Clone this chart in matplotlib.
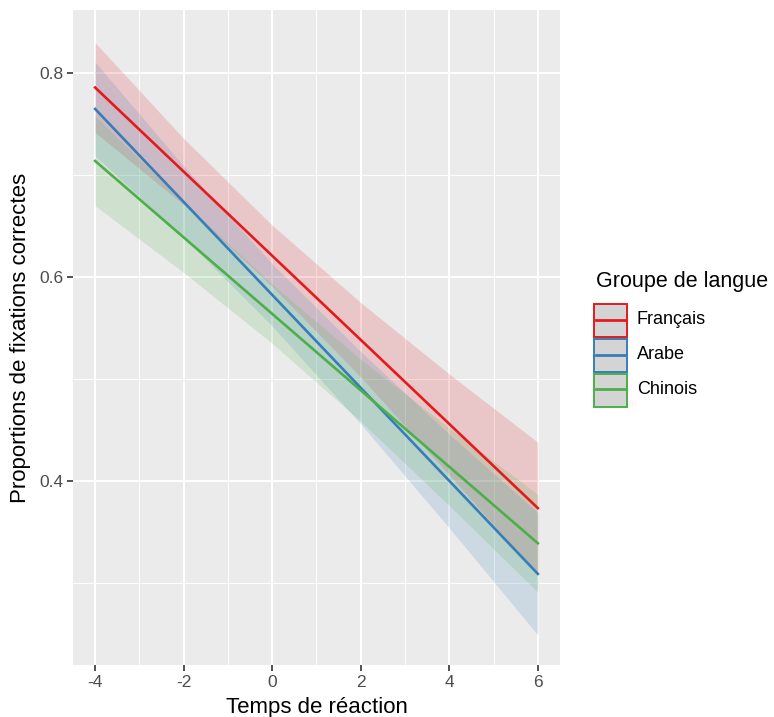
import numpy as np
import matplotlib.pyplot as plt
from matplotlib.patches import Rectangle
from matplotlib.lines import Line2D

# valeurs
temps = [-4, -2, 0, 2, 4, 6]
groupes = ['Français', 'Arabe', 'Chinois']
couleurs = ['#E41A1C', '#377EB8', '#4DAF4A']

fr_fit = [0.786, 0.7035, 0.621, 0.5385, 0.456, 0.3735]
fr_low = [0.742, 0.671, 0.591, 0.502, 0.406, 0.308]
fr_up = [0.830, 0.736, 0.651, 0.575, 0.505, 0.438]

ar_fit = [0.765, 0.6738, 0.5826, 0.4914, 0.4002, 0.309]
ar_low = [0.719, 0.639, 0.552, 0.456, 0.354, 0.249]
ar_up = [0.811, 0.709, 0.613, 0.527, 0.446, 0.369]

ch_fit = [0.714, 0.639, 0.564, 0.489, 0.414, 0.339]
ch_low = [0.670, 0.6045, 0.535, 0.4586, 0.376, 0.291]
ch_up = [0.758, 0.6735, 0.593, 0.5194, 0.452, 0.387]

fits = [fr_fit, ar_fit, ch_fit]
lows = [fr_low, ar_low, ch_low]
ups = [fr_up, ar_up, ch_up]

plt.rcParams['font.family'] = ['Liberation Sans', 'DejaVu Sans']

W, H = 774, 717
fig = plt.figure(figsize=(W / 100, H / 100), dpi=100)
ax = fig.add_axes([0.0943, 0.0725, 0.6292, 0.9135])
ax.set_facecolor('#EBEBEB')

for i in range(3):
    ax.fill_between(temps, lows[i], ups[i], color=couleurs[i], alpha=0.17, lw=0, zorder=2)
for i in range(3):
    ax.plot(temps, fits[i], color=couleurs[i], lw=1.9, zorder=3)

ax.set_xlim(-4.5, 6.5)
ax.set_ylim(0.2196, 0.862)
ax.set_xticks([-4, -2, 0, 2, 4, 6])
ax.set_xticks([-3, -1, 1, 3, 5], minor=True)
ax.set_yticks([0.4, 0.6, 0.8])
ax.set_yticks([0.3, 0.5, 0.7], minor=True)
ax.set_xticklabels(['-4', '-2', '0', '2', '4', '6'])
ax.set_yticklabels(['0.4', '0.6', '0.8'])
ax.grid(which='major', color='white', lw=1.4, zorder=1)
ax.grid(which='minor', color='white', lw=0.7, zorder=1)
ax.set_axisbelow(True)
for s in ax.spines.values():
    s.set_visible(False)
ax.tick_params(which='major', length=4, width=1.2, color='#333333',
               labelcolor='#4D4D4D', labelsize=12.5, pad=3)
ax.tick_params(which='minor', length=0)
ax.set_xlabel('Temps de réaction', fontsize=16, color='black', labelpad=5)
ax.set_ylabel('Proportions de fixations correctes', fontsize=16, color='black', labelpad=6)

# legende dessinee a la main (cles carrees accolees, style ggplot)
fig.text(596 / W, 1 - 282 / H, 'Groupe de langue', fontsize=15.5, va='center', ha='left')
key = 35
for i, (g, c) in enumerate(zip(groupes, couleurs)):
    top = 303 + key * i
    fig.add_artist(Rectangle(((594) / W, 1 - (top + key - 1) / H), (key - 2) / W, (key - 2) / H,
                             transform=fig.transFigure, fc='#D4D4D4', ec=c, lw=1.4))
    yc = 1 - (top + key / 2 - 1) / H
    fig.add_artist(Line2D([596 / W, 625 / W], [yc, yc], transform=fig.transFigure, color=c, lw=2))
    fig.text(637 / W, yc, g, fontsize=13, va='center', ha='left')

plt.savefig('out.png', dpi=100)
